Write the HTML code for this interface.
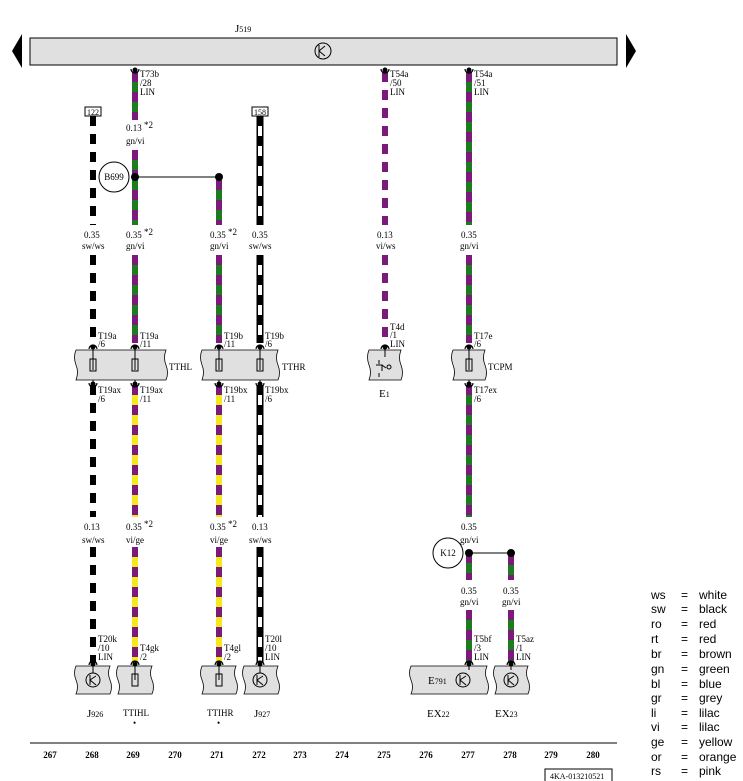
<!DOCTYPE html>
<html><head><meta charset="utf-8"><style>
body{margin:0;background:#fff}
svg{display:block}
text{font-family:"Liberation Serif",serif;font-size:9px;fill:#000}
.lg{font-family:"Liberation Sans",sans-serif;font-size:12px}
.num{font-size:9px;font-weight:bold}
.w{stroke-width:6;fill:none}
.gn{stroke:#1e7b1e}
.vi{stroke:#7b1a7b;stroke-dasharray:10 10}
.vi2{stroke:#7b1a7b;stroke-dasharray:10 8}
.ge{stroke:#f2ea1a}
.sw{stroke:#000;stroke-dasharray:10 8}
.box{fill:#e0e0e0;stroke:#000;stroke-width:0.8}
</style></head><body>
<svg width="743" height="781" viewBox="0 0 743 781" xmlns="http://www.w3.org/2000/svg">
<!-- J519 bar -->
<text x="235" y="32" style="font-size:11px">J<tspan style="font-size:8px">519</tspan></text>
<rect x="30" y="38" width="587" height="27" fill="#e0e0e0" stroke="#000" stroke-width="1"/>
<polygon points="22,34 22,68 12,51" fill="#000"/>
<polygon points="626,34 626,68 636,51" fill="#000"/>
<circle cx="323" cy="51" r="8" fill="none" stroke="#000"/>
<path d="M319 45v12M319 51l6-5M319 51l6 5" stroke="#000" fill="none"/>

<!-- col 135 -->
<g class="w">
<line x1="135" y1="72" x2="135" y2="120" class="w gn"/><line x1="135" y1="72" x2="135" y2="120" class="w vi"/>
<line x1="135" y1="150" x2="135" y2="225" class="w gn"/><line x1="135" y1="150" x2="135" y2="225" class="w vi"/>
<line x1="135" y1="255" x2="135" y2="343" class="w gn"/><line x1="135" y1="255" x2="135" y2="343" class="w vi"/>
<line x1="135" y1="385" x2="135" y2="517" class="w ge"/><line x1="135" y1="385" x2="135" y2="517" class="w vi"/>
<line x1="135" y1="547" x2="135" y2="663" class="w ge"/><line x1="135" y1="547" x2="135" y2="663" class="w vi"/>
<!-- col 93 -->
<line x1="93" y1="116" x2="93" y2="225" class="w sw"/>
<line x1="93" y1="255" x2="93" y2="343" class="w sw"/>
<line x1="93" y1="385" x2="93" y2="517" class="w sw"/>
<line x1="93" y1="547" x2="93" y2="663" class="w sw"/>
<!-- col 219 -->
<line x1="219" y1="180" x2="219" y2="225" class="w gn"/><line x1="219" y1="180" x2="219" y2="225" class="w vi"/>
<line x1="219" y1="255" x2="219" y2="343" class="w gn"/><line x1="219" y1="255" x2="219" y2="343" class="w vi"/>
<line x1="219" y1="385" x2="219" y2="517" class="w ge"/><line x1="219" y1="385" x2="219" y2="517" class="w vi"/>
<line x1="219" y1="547" x2="219" y2="663" class="w ge"/><line x1="219" y1="547" x2="219" y2="663" class="w vi"/>
<!-- col 260 -->
<g stroke="#000" stroke-width="7"><line x1="260" y1="116" x2="260" y2="225"/><line x1="260" y1="255" x2="260" y2="343"/><line x1="260" y1="385" x2="260" y2="517"/><line x1="260" y1="547" x2="260" y2="663"/></g>
<g stroke="#fff" stroke-width="4" stroke-dasharray="10 10"><line x1="260" y1="126" x2="260" y2="225"/><line x1="260" y1="265" x2="260" y2="343"/><line x1="260" y1="395" x2="260" y2="517"/><line x1="260" y1="557" x2="260" y2="663"/></g>
<!-- col 385 -->
<line x1="385" y1="72" x2="385" y2="225" class="w vi2"/>
<line x1="385" y1="255" x2="385" y2="343" class="w vi2"/>
<!-- col 469 -->
<line x1="469" y1="72" x2="469" y2="225" class="w gn"/><line x1="469" y1="72" x2="469" y2="225" class="w vi"/>
<line x1="469" y1="255" x2="469" y2="343" class="w gn"/><line x1="469" y1="255" x2="469" y2="343" class="w vi"/>
<line x1="469" y1="385" x2="469" y2="517" class="w gn"/><line x1="469" y1="385" x2="469" y2="517" class="w vi"/>
<line x1="469" y1="553" x2="469" y2="580" class="w gn"/><line x1="469" y1="553" x2="469" y2="580" class="w vi"/>
<line x1="469" y1="610" x2="469" y2="663" class="w gn"/><line x1="469" y1="610" x2="469" y2="663" class="w vi"/>
<!-- col 511 -->
<line x1="511" y1="555" x2="511" y2="580" class="w gn"/><line x1="511" y1="555" x2="511" y2="580" class="w vi"/>
<line x1="511" y1="610" x2="511" y2="663" class="w gn"/><line x1="511" y1="610" x2="511" y2="663" class="w vi"/>
</g>

<!-- nodes -->
<line x1="135" y1="177" x2="219" y2="177" stroke="#000"/>
<circle cx="135" cy="177" r="4"/><circle cx="219" cy="177" r="4"/>
<circle cx="114" cy="177" r="15" fill="#fff" stroke="#000"/><text x="114" y="180" text-anchor="middle">B699</text>
<line x1="469" y1="553" x2="511" y2="553" stroke="#000"/>
<circle cx="469" cy="553" r="4"/><circle cx="511" cy="553" r="4"/>
<circle cx="448" cy="553" r="15" fill="#fff" stroke="#000"/><text x="448" y="556" text-anchor="middle">K12</text>

<!-- top connectors -->
<g fill="none" stroke="#000" stroke-width="1.2">
<path d="M131 69a4 4 0 0 0 8 0M381 69a4 4 0 0 0 8 0M465 69a4 4 0 0 0 8 0"/>
</g>
<circle cx="135" cy="70" r="2.5"/><circle cx="385" cy="70" r="2.5"/><circle cx="469" cy="70" r="2.5"/>
<text x="140" y="77">T73b</text><text x="140" y="86">/28</text><text x="140" y="95">LIN</text>
<text x="390" y="77">T54a</text><text x="390" y="86">/50</text><text x="390" y="95">LIN</text>
<text x="474" y="77">T54a</text><text x="474" y="86">/51</text><text x="474" y="95">LIN</text>

<rect x="85" y="107" width="16" height="9" fill="#fff" stroke="#000"/><text x="93" y="115" text-anchor="middle" style="font-size:8px">122</text>
<rect x="252" y="107" width="16" height="9" fill="#fff" stroke="#000"/><text x="260" y="115" text-anchor="middle" style="font-size:8px">158</text>

<!-- wire labels -->
<text x="126" y="131">0.13 <tspan dy="-3">*2</tspan></text><text x="126" y="144">gn/vi</text>
<text x="84" y="238">0.35</text><text x="82" y="249">sw/ws</text>
<text x="126" y="238">0.35 <tspan dy="-3">*2</tspan></text><text x="126" y="249">gn/vi</text>
<text x="210" y="238">0.35 <tspan dy="-3">*2</tspan></text><text x="210" y="249">gn/vi</text>
<text x="252" y="238">0.35</text><text x="249" y="249">sw/ws</text>
<text x="377" y="238">0.13</text><text x="376" y="249">vi/ws</text>
<text x="461" y="238">0.35</text><text x="460" y="249">gn/vi</text>
<text x="84" y="530">0.13</text><text x="82" y="543">sw/ws</text>
<text x="126" y="530">0.35 <tspan dy="-3">*2</tspan></text><text x="126" y="543">vi/ge</text>
<text x="210" y="530">0.35 <tspan dy="-3">*2</tspan></text><text x="210" y="543">vi/ge</text>
<text x="252" y="530">0.13</text><text x="249" y="543">sw/ws</text>
<text x="461" y="530">0.35</text><text x="460" y="543">gn/vi</text>
<text x="461" y="594">0.35</text><text x="460" y="605">gn/vi</text>
<text x="503" y="594">0.35</text><text x="502" y="605">gn/vi</text>

<!-- row 1 boxes -->
<path class="box" d="M76 350H166q-3 8 0 15q3 8 0 15H76q3-8 0-15q-3-8 0-15z"/>
<path class="box" d="M202 350H278q-3 8 0 15q3 8 0 15H202q3-8 0-15q-3-8 0-15z"/>
<path class="box" d="M369 350H401q-3 8 0 15q3 8 0 15H369q3-8 0-15q-3-8 0-15z"/>
<path class="box" d="M453 350H485q-3 8 0 15q3 8 0 15H453q3-8 0-15q-3-8 0-15z"/>
<g fill="none" stroke="#000">
<rect x="90" y="359" width="6" height="12"/><rect x="132" y="359" width="6" height="12"/>
<rect x="216" y="359" width="6" height="12"/><rect x="257" y="359" width="6" height="12"/>
<rect x="466" y="359" width="6" height="12"/>
<path d="M93 347v23M135 347v23M219 347v23M260 347v23M469 347v23M385 347v10M93 380v6M135 380v6M219 380v6M260 380v6M469 380v6"/>
<path d="M89 349a4 4 0 0 1 8 0M131 349a4 4 0 0 1 8 0M215 349a4 4 0 0 1 8 0M256 349a4 4 0 0 1 8 0M381 349a4 4 0 0 1 8 0M465 349a4 4 0 0 1 8 0" stroke-width="1.2"/>
<path d="M89 383a4 4 0 0 0 8 0M131 383a4 4 0 0 0 8 0M215 383a4 4 0 0 0 8 0M256 383a4 4 0 0 0 8 0M465 383a4 4 0 0 0 8 0" stroke-width="1.2"/>
<path d="M379 360v4M376 365h6v6M379 373v4M382 365l4 3"/><circle cx="389" cy="367" r="2"/>
</g>
<g><circle cx="93" cy="347" r="2.5"/><circle cx="135" cy="347" r="2.5"/><circle cx="219" cy="347" r="2.5"/><circle cx="260" cy="347" r="2.5"/><circle cx="385" cy="347" r="2.5"/><circle cx="469" cy="347" r="2.5"/>
<circle cx="93" cy="384" r="2.5"/><circle cx="135" cy="384" r="2.5"/><circle cx="219" cy="384" r="2.5"/><circle cx="260" cy="384" r="2.5"/><circle cx="469" cy="384" r="2.5"/></g>
<text x="98" y="339">T19a</text><text x="98" y="347">/6</text>
<text x="140" y="339">T19a</text><text x="140" y="347">/11</text>
<text x="224" y="339">T19b</text><text x="224" y="347">/11</text>
<text x="265" y="339">T19b</text><text x="265" y="347">/6</text>
<text x="390" y="330">T4d</text><text x="390" y="338">/1</text><text x="390" y="347">LIN</text>
<text x="474" y="339">T17e</text><text x="474" y="347">/6</text>
<text x="98" y="393">T19ax</text><text x="98" y="402">/6</text>
<text x="140" y="393">T19ax</text><text x="140" y="402">/11</text>
<text x="224" y="393">T19bx</text><text x="224" y="402">/11</text>
<text x="265" y="393">T19bx</text><text x="265" y="402">/6</text>
<text x="474" y="393">T17ex</text><text x="474" y="402">/6</text>
<text x="169" y="370">TTHL</text><text x="282" y="370">TTHR</text><text x="488" y="370">TCPM</text>
<text x="379" y="397" style="font-size:11px">E<tspan style="font-size:8px">1</tspan></text>

<!-- bottom connectors labels -->
<text x="98" y="642">T20k</text><text x="98" y="651">/10</text><text x="98" y="660">LIN</text>
<text x="140" y="651">T4gk</text><text x="140" y="660">/2</text>
<text x="224" y="651">T4gl</text><text x="224" y="660">/2</text>
<text x="265" y="642">T20l</text><text x="265" y="651">/10</text><text x="265" y="660">LIN</text>
<text x="474" y="642">T5bf</text><text x="474" y="651">/3</text><text x="474" y="660">LIN</text>
<text x="516" y="642">T5az</text><text x="516" y="651">/1</text><text x="516" y="660">LIN</text>

<!-- bottom boxes -->
<path class="box" d="M76 666H110q-3 7 0 14q3 7 0 14H76q3-7 0-14q-3-7 0-14z"/>
<path class="box" d="M118 666H152q-3 7 0 14q3 7 0 14H118q3-7 0-14q-3-7 0-14z"/>
<path class="box" d="M202 666H236q-3 7 0 14q3 7 0 14H202q3-7 0-14q-3-7 0-14z"/>
<path class="box" d="M244 666H278q-3 7 0 14q3 7 0 14H244q3-7 0-14q-3-7 0-14z"/>
<path class="box" d="M411 666H487q-3 7 0 14q3 7 0 14H411q3-7 0-14q-3-7 0-14z"/>
<path class="box" d="M495 666H528q-3 7 0 14q3 7 0 14H495q3-7 0-14q-3-7 0-14z"/>
<g fill="none" stroke="#000">
<path d="M89 665a4 4 0 0 1 8 0M131 665a4 4 0 0 1 8 0M215 665a4 4 0 0 1 8 0M256 665a4 4 0 0 1 8 0M465 665a4 4 0 0 1 8 0M507 665a4 4 0 0 1 8 0" stroke-width="1.2"/>
<circle cx="93" cy="680" r="7"/><circle cx="260" cy="680" r="7"/><circle cx="463" cy="680" r="7"/><circle cx="511" cy="680" r="7"/>
<path d="M90 675v10M90 680l6-4M90 680l6 5M257 675v10M257 680l6-4M257 680l6 5M460 675v10M460 680l6-4M460 680l6 5M508 675v10M508 680l6-4M508 680l6 5"/>
<rect x="132" y="674" width="6" height="12"/><rect x="216" y="674" width="6" height="12"/>
<path d="M135 664v16M219 664v16M93 664v9M260 664v9M469 664v6M511 664v6"/>
</g>
<circle cx="93" cy="664" r="2.5"/><circle cx="135" cy="664" r="2.5"/><circle cx="219" cy="664" r="2.5"/><circle cx="260" cy="664" r="2.5"/><circle cx="469" cy="664" r="2.5"/><circle cx="511" cy="664" r="2.5"/>
<text x="428" y="684" style="font-size:11px">E<tspan style="font-size:8px">791</tspan></text>

<text x="87" y="717" style="font-size:11px">J<tspan style="font-size:8px">926</tspan></text>
<text x="123" y="716" style="font-size:9px">TTIHL</text><text x="133" y="726">•</text>
<text x="207" y="716" style="font-size:9px">TTIHR</text><text x="217" y="726">•</text>
<text x="254" y="717" style="font-size:11px">J<tspan style="font-size:8px">927</tspan></text>
<text x="427" y="717" style="font-size:11px">EX<tspan style="font-size:8px">22</tspan></text>
<text x="495" y="717" style="font-size:11px">EX<tspan style="font-size:8px">23</tspan></text>

<!-- bottom scale -->
<line x1="30" y1="743" x2="617" y2="743" stroke="#000"/>
<g class="num" text-anchor="middle">
<text x="50" y="758" class="num">267</text><text x="92" y="758" class="num">268</text><text x="133" y="758" class="num">269</text><text x="175" y="758" class="num">270</text><text x="217" y="758" class="num">271</text><text x="259" y="758" class="num">272</text><text x="300" y="758" class="num">273</text><text x="342" y="758" class="num">274</text><text x="384" y="758" class="num">275</text><text x="426" y="758" class="num">276</text><text x="468" y="758" class="num">277</text><text x="510" y="758" class="num">278</text><text x="551" y="758" class="num">279</text><text x="593" y="758" class="num">280</text>
</g>
<path d="M545 781v-12h67v12" fill="none" stroke="#000"/>
<text x="550" y="779" style="font-size:8px">4KA-013210521</text>

<!-- legend -->
<g class="lg">
<text class="lg" x="651" y="599">ws</text><text class="lg" x="681" y="599">=</text><text class="lg" x="699" y="599">white</text>
<text class="lg" x="651" y="613">sw</text><text class="lg" x="681" y="613">=</text><text class="lg" x="699" y="613">black</text>
<text class="lg" x="651" y="628">ro</text><text class="lg" x="681" y="628">=</text><text class="lg" x="699" y="628">red</text>
<text class="lg" x="651" y="643">rt</text><text class="lg" x="681" y="643">=</text><text class="lg" x="699" y="643">red</text>
<text class="lg" x="651" y="658">br</text><text class="lg" x="681" y="658">=</text><text class="lg" x="699" y="658">brown</text>
<text class="lg" x="651" y="673">gn</text><text class="lg" x="681" y="673">=</text><text class="lg" x="699" y="673">green</text>
<text class="lg" x="651" y="688">bl</text><text class="lg" x="681" y="688">=</text><text class="lg" x="699" y="688">blue</text>
<text class="lg" x="651" y="702">gr</text><text class="lg" x="681" y="702">=</text><text class="lg" x="699" y="702">grey</text>
<text class="lg" x="651" y="717">li</text><text class="lg" x="681" y="717">=</text><text class="lg" x="699" y="717">lilac</text>
<text class="lg" x="651" y="731">vi</text><text class="lg" x="681" y="731">=</text><text class="lg" x="699" y="731">lilac</text>
<text class="lg" x="651" y="746">ge</text><text class="lg" x="681" y="746">=</text><text class="lg" x="699" y="746">yellow</text>
<text class="lg" x="651" y="761">or</text><text class="lg" x="681" y="761">=</text><text class="lg" x="699" y="761">orange</text>
<text class="lg" x="651" y="775">rs</text><text class="lg" x="681" y="775">=</text><text class="lg" x="699" y="775">pink</text>
</g>
</svg>
</body></html>
